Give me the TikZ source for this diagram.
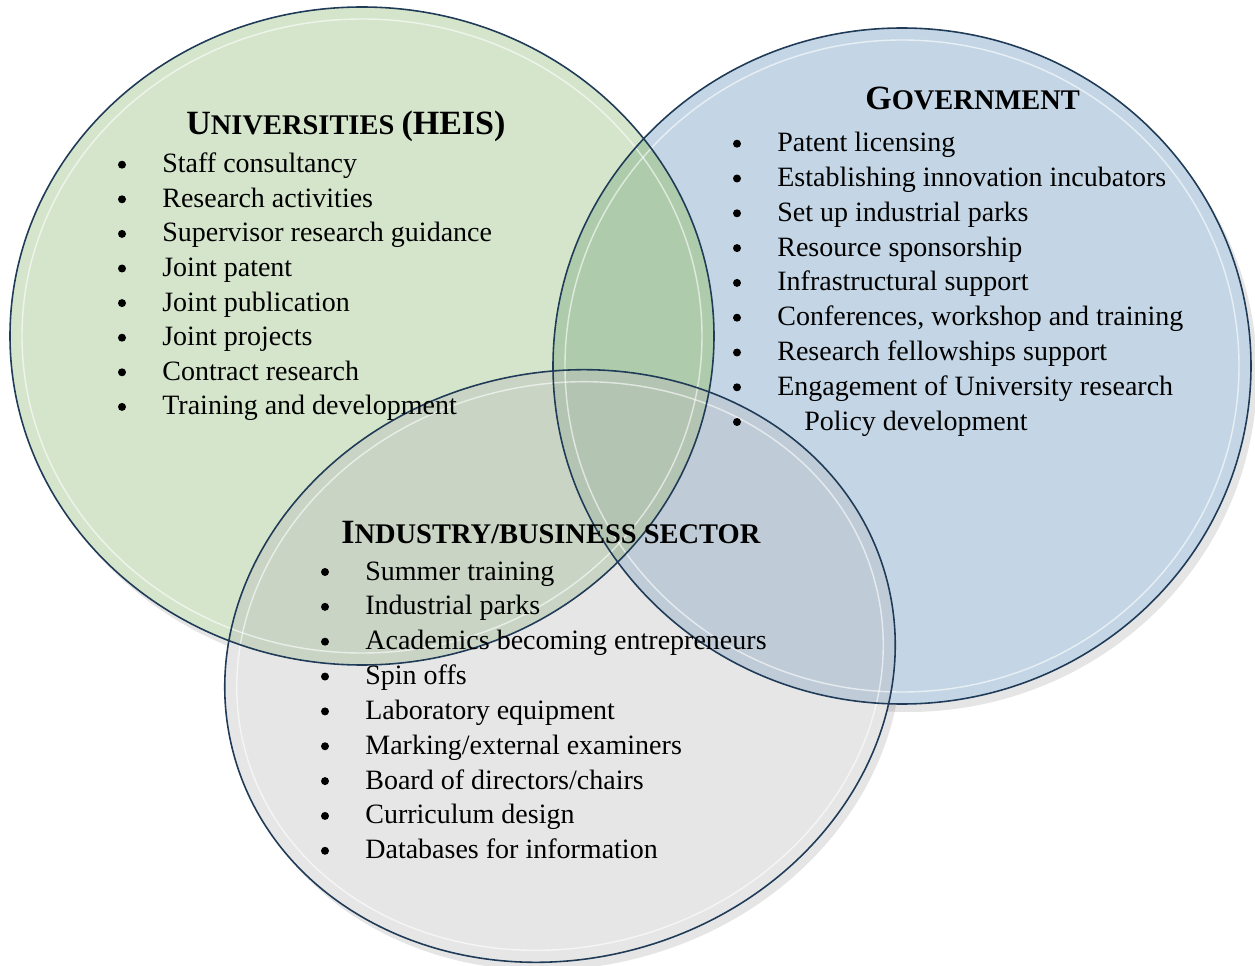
\documentclass[tikz,border=0pt]{standalone}
\usepackage{fontspec}
\setmainfont{Liberation Serif}

\definecolor{uniFill}{HTML}{D5E5CC}
\definecolor{govFill}{HTML}{C4D6E5}
\definecolor{indFill}{HTML}{E6E6E6}
\definecolor{ugFill}{HTML}{AECCAC}
\definecolor{uiFill}{HTML}{C9D4C4}
\definecolor{giFill}{HTML}{BFCBD7}
\definecolor{allFill}{HTML}{B4C4B3}
\definecolor{rimNavy}{HTML}{1F3B57}

% faked small caps for the three headings
\newcommand{\capA}[1]{{\fontsize{19.35}{20}\selectfont #1}}
\newcommand{\capB}[1]{{\fontsize{16.2}{18}\selectfont #1}}

% the three discs
\newcommand{\uniShape}{(362,336) ellipse [x radius=352, y radius=329]}
\newcommand{\govShape}{(902,366) ellipse [x radius=349, y radius=338]}
\newcommand{\indShape}{(560,666) ellipse [x radius=338, y radius=293, rotate=15]}

\tikzset{
  rim/.style={draw=rimNavy, line width=0.9pt},
  innerrim/.style={draw=white, line width=0.8pt, draw opacity=0.6},
  shade/.style={fill=black, fill opacity=0.10},
  head/.style={anchor=base west, inner sep=0pt, font=\bfseries},
  item/.style={anchor=base west, inner sep=0pt, font=\fontsize{15.94}{18}\selectfont},
  dot/.style={circle, fill=black, inner sep=0pt, minimum size=0.16cm},
}

\begin{document}
\begin{tikzpicture}[x=0.02cm, y=-0.02cm]
  \useasboundingbox (0,0) rectangle (1255,966);

  % shadows
  \begin{scope}[shift={(6,8)}]
    \fill[shade] \uniShape;
    \fill[shade] \govShape;
    \fill[shade] \indShape;
  \end{scope}
  % plain discs
  \fill[uniFill] \uniShape;
  \fill[govFill] \govShape;
  \fill[indFill] \indShape;
  % overlaps
  \begin{scope}
    \clip \uniShape;
    \fill[ugFill] \govShape;
    \fill[uiFill] \indShape;
  \end{scope}
  \begin{scope}
    \clip \govShape;
    \fill[giFill] \indShape;
    \clip \uniShape;
    \fill[allFill] \indShape;
  \end{scope}
  % inner rings
  \draw[innerrim] (362,336) ellipse [x radius=340, y radius=317];
  \draw[innerrim] (902,366) ellipse [x radius=337, y radius=326];
  \draw[innerrim] (560,666) ellipse [x radius=326, y radius=281, rotate=15];
  % outer rims
  \draw[rim] \govShape;
  \draw[rim] \uniShape;
  \draw[rim] \indShape;

  % Universities
  \node[head] (uni-head) at (186,135) {\capA{U}\capB{NIVERSITIES }\capA{(HEIS)}};
  \foreach \txt [count=\i] in {Staff consultancy, Research activities,
      Supervisor research guidance, Joint patent, Joint publication,
      Joint projects, Contract research, Training and development} {
    \node[dot] (uni-b\i) at (122,{164.7+34.6*(\i-1)}) {};
    \node[item] (uni-\i) at (162,{172.7+34.6*(\i-1)}) {\txt};
  }

  % Government
  \node[head] (gov-head) at (865,110) {\capA{G}\capB{OVERNMENT}};
  \foreach \txt [count=\i] in {Patent licensing, Establishing innovation incubators,
      Set up industrial parks, Resource sponsorship, Infrastructural support,
      {Conferences, workshop and training}, Research fellowships support,
      Engagement of University research} {
    \node[dot] (gov-b\i) at (737,{143.7+34.8*(\i-1)}) {};
    \node[item] (gov-\i) at (777,{151.7+34.8*(\i-1)}) {\txt};
  }
  \node[dot] (gov-b9) at (737,422) {};
  \node[item] (gov-9) at (804,430) {Policy development};

  % Industry
  \node[head] (ind-head) at (341,543) {\capA{I}\capB{NDUSTRY/BUSINESS SECTOR}};
  \foreach \txt [count=\i] in {Summer training, Industrial parks,
      Academics becoming entrepreneurs, Spin offs, Laboratory equipment,
      Marking/external examiners, Board of directors/chairs,
      Curriculum design, Databases for information} {
    \node[dot] (ind-b\i) at (325,{572+34.85*(\i-1)}) {};
    \node[item] (ind-\i) at (365,{580+34.85*(\i-1)}) {\txt};
  }
\end{tikzpicture}
\end{document}
